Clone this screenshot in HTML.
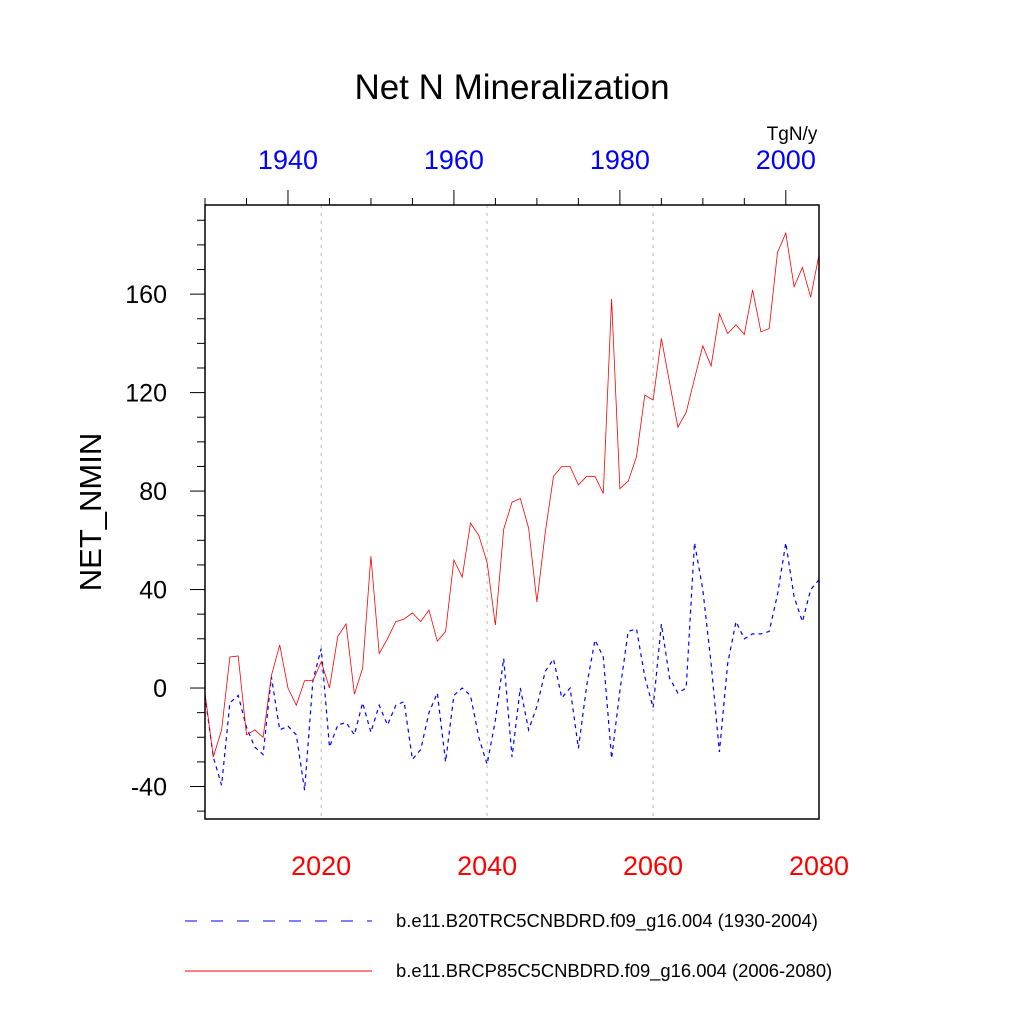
<!DOCTYPE html>
<html><head><meta charset="utf-8"><style>
body{margin:0;background:#fff}
svg{display:block;font-family:"Liberation Sans",sans-serif}
</style></head><body>
<svg id="chart" width="1024" height="1024" viewBox="0 0 1024 1024">
<text x="512" y="99" text-anchor="middle" font-size="35">Net N Mineralization</text>
<text x="792" y="140" text-anchor="middle" font-size="19">TgN/y</text>
<text transform="translate(101,512) rotate(-90)" text-anchor="middle" font-size="31">NET_NMIN</text>
<g id="grid"></g>
<g id="series"></g>
<rect x="205" y="205" width="614" height="614" fill="none" stroke="#000" stroke-width="1.5"/>
<g id="axes"></g>
<line x1="185" y1="921" x2="372" y2="921" stroke="#0000ff" stroke-width="1" stroke-dasharray="12,14"/>
<text x="396" y="927" font-size="18.4">b.e11.B20TRC5CNBDRD.f09_g16.004 (1930-2004)</text>
<line x1="185" y1="971" x2="372" y2="971" stroke="#ff0000" stroke-width="1"/>
<text x="396" y="977" font-size="18.4">b.e11.BRCP85C5CNBDRD.f09_g16.004 (2006-2080)</text>
</svg>
<script>
const rcpYears = [2006,2080];
const histYears = [1930,2004];
const rcpValues = [-2,-28,-17,12.6,13,-19,-17,-20,5,17.5,0,-7,3,3,10.6,0,21,26,-2.5,8,53.6,14,20,27,28,30.5,27,31.7,19,23,52,45,67,62,51,25.6,64.5,75.5,77,65,35,63,86,90,90,82.5,86,86,79,158,81,84,94,119,117,142,124,106,112,125.6,139,130.8,152,144,147.5,143.6,161.7,144.7,146,177,184.8,163,170.8,158.7,176];
const histValues = [-3,-28,-39.5,-6,-3,-16,-24,-27,4.5,-17,-15.5,-19,-41.5,3,16,-24,-15,-14,-19,-6,-18,-7,-15,-7,-5.5,-29,-25,-10,-2,-30,-3,0,-3,-20,-31,-13,12,-28,0,-17,-7.5,6.7,11.8,-4,0,-24.5,1,19.5,12.6,-28.6,-1,23,24,4.6,-8,26,4,-2,0,59,40,10,-26,10,27,20,22,22,23,38,59,37,27,40,44];
const yTicks = [-40,0,40,80,120,160];
const bottomTicks = [2020,2040,2060,2080];
const topTicks = [1940,1960,1980,2000];

const L=205,R=819,T=205,B=819;
const yMin=-53.2,yMax=196.2;
const ys=v=>B-(v-yMin)/(yMax-yMin)*(B-T);
const xr=yr=>L+(yr-rcpYears[0])/(rcpYears[1]-rcpYears[0])*(R-L);
const xh=yr=>L+(yr-histYears[0])/(histYears[1]-histYears[0])*(R-L);
const NS="http://www.w3.org/2000/svg";
function mk(tag,attrs,parent){const e=document.createElementNS(NS,tag);for(const k in attrs)e.setAttribute(k,attrs[k]);parent.appendChild(e);return e;}
const grid=document.getElementById('grid'),series=document.getElementById('series'),axes=document.getElementById('axes');

bottomTicks.forEach(t=>{
  if(t<rcpYears[1]){
    const g=mk('line',{x1:xr(t),x2:xr(t),y1:T,y2:B,stroke:'#bbb','stroke-width':1,'stroke-dasharray':'3,5'},grid);
    
    
  }
  const lb=mk('text',{x:xr(t),y:875,'text-anchor':'middle','font-size':27,fill:'#ff0000'},axes);
  lb.textContent=t;
  
  
});
for(let yr=histYears[0];yr<=histYears[1];yr+=5){
  const major=(yr%20===0);
  const tk=mk('line',{x1:xh(yr),x2:xh(yr),y1:T,y2:T-(major?15:7),stroke:'#000','stroke-width':1},axes);
  
  
}
topTicks.forEach(t=>{
  const lb=mk('text',{x:xh(t),y:169,'text-anchor':'middle','font-size':27,fill:'#0000ff'},axes);
  lb.textContent=t;
  
  
});
for(let v=-50;v<=190;v+=10){
  const major=(v%40===0);
  const tk=mk('line',{x1:L,x2:L-(major?15:8),y1:ys(v),y2:ys(v),stroke:'#000','stroke-width':1},axes);
  
  
}
yTicks.forEach(v=>{
  const lb=mk('text',{x:167,y:ys(v)+9,'text-anchor':'end','font-size':25},axes);
  lb.textContent=v;
  
  
});
const hp=histValues.map((v,i)=>xh(histYears[0]+i).toFixed(1)+','+ys(v).toFixed(1)).join(' ');
const hl=mk('polyline',{points:hp,fill:'none',stroke:'#0000ff','stroke-width':1.2,'stroke-dasharray':'4,4'},series);


const rp=rcpValues.map((v,i)=>xr(rcpYears[0]+i).toFixed(1)+','+ys(v).toFixed(1)).join(' ');
const rl=mk('polyline',{points:rp,fill:'none',stroke:'#ff0000','stroke-width':0.8},series);


</script>
</body></html>
